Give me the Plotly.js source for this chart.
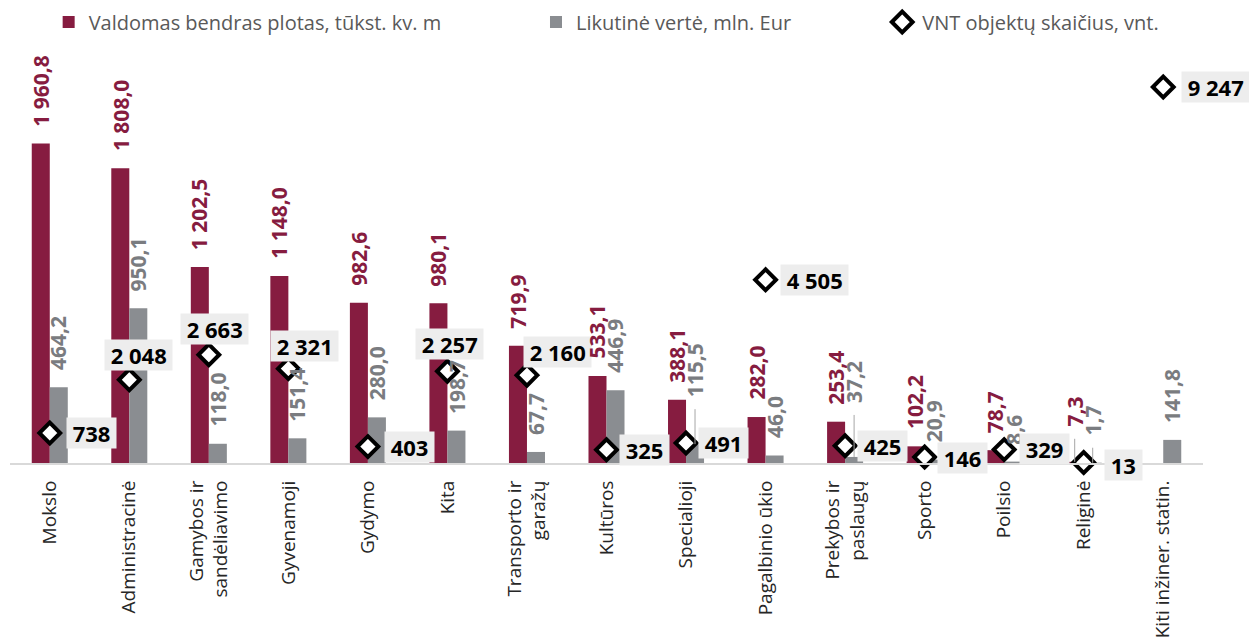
<!DOCTYPE html>
<html>
<head>
<meta charset="utf-8">
<script src="https://cdn.plot.ly/plotly-3.0.1.min.js"></script>
<style>html,body{margin:0;padding:0;background:#fff;}#chart{width:1249px;height:644px;}</style>
</head>
<body>
<div id="chart"></div>
<script>
// ---- data ----
const categories = [
  "Mokslo", "Administracinė", "Gamybos ir<br>sandėliavimo", "Gyvenamoji", "Gydymo", "Kita",
  "Transporto ir<br>garažų", "Kultūros", "Specialioji", "Pagalbinio ūkio", "Prekybos ir<br>paslaugų",
  "Sporto", "Poilsio", "Religinė", "Kiti inžiner. statin."
];
const plotas = [1960.8, 1808.0, 1202.5, 1148.0, 982.6, 980.1, 719.9, 533.1, 388.1, 282.0, 253.4, 102.2, 78.7, 7.3, null];
const vertė = [464.2, 950.1, 118.0, 151.4, 280.0, 198.7, 67.7, 446.9, 115.5, 46.0, 37.2, 20.9, 8.6, 1.7, 141.8];
const vnt = [738, 2048, 2663, 2321, 403, 2257, 2160, 325, 491, 4505, 425, 146, 329, 13, 9247];

const seriesNames = ["Valdomas bendras plotas, tūkst. kv. m", "Likutinė vertė, mln. Eur", "VNT objektų skaičius, vnt."];

// ---- style ----
const MAROON = "#861C40";
const GRAY = "#8A8D91";
const GRAYTXT = "#7A7C80";
const FONT = "Open Sans, Noto Sans, sans-serif";
// label placement for VNT labels: [xshift, yshift, anchor]
const vntLabelStyle = [
  [16,0,'left'], [9,25,'center'], [6,26,'center'], [16,23,'center'], [16,0,'left'], [2,27,'center'],
  [31,23,'center'], [12,0,'left'], [12,0,'left'], [14,0,'left'], [12,0,'left'],
  [12,-1,'left'], [15,1,'left'], [20,-3,'left'], [18,0,'left']
];
// extra lift of some value labels (moved labels in the original), with leader lines
const plotasLift = {13: 18};
const verteLift = {8: 30, 10: 37, 13: 10};

function fmt(v, dec) {
  let s = v.toFixed(dec);
  let parts = s.split('.');
  parts[0] = parts[0].replace(/\B(?=(\d{3})+(?!\d))/g, ' ');
  return parts.join(',');
}

const traces = [
  {type:'bar', name: seriesNames[0], x: categories, y: plotas, marker:{color: MAROON},
   legend:'legend', hoverinfo:'skip'},
  {type:'bar', name: seriesNames[1], x: categories, y: vertė, marker:{color: GRAY},
   legend:'legend2', hoverinfo:'skip'},
  {type:'scatter', mode:'markers', name: seriesNames[2], x: categories, y: vnt, yaxis:'y2',
   marker:{symbol:'diamond', size:16, color:'#ffffff', line:{color:'#000000', width:4}},
   cliponaxis:false, legend:'legend3', hoverinfo:'skip'}
];

const annotations = [];
const shapes = [];
categories.forEach((c, i) => {
  if (plotas[i] != null) {
    annotations.push({x:c, y:plotas[i], xref:'x', yref:'y', text: fmt(plotas[i],1), showarrow:false,
      textangle:-90, xanchor:'center', yanchor:'bottom', xshift:-9, yshift:15 + (plotasLift[i]||0),
      font:{family:FONT, size:21, color:MAROON, weight:700}});
    if (plotasLift[i]) {
      shapes.push({type:'line', xref:'x', yref:'y', xsizemode:'pixel', xanchor:i, x0:-9, x1:-9,
        ysizemode:'pixel', yanchor:plotas[i], y0:0, y1:plotasLift[i] + 5,
        line:{color:'#A6A6A6', width:1}, layer:'above'});
    }
  }
  if (vertė[i] != null) {
    annotations.push({x:c, y:vertė[i], xref:'x', yref:'y', text: fmt(vertė[i],1), showarrow:false,
      textangle:-90, xanchor:'center', yanchor:'bottom', xshift:9, yshift:15 + (verteLift[i]||0),
      font:{family:FONT, size:21, color:GRAYTXT, weight:700}});
    if (verteLift[i]) {
      shapes.push({type:'line', xref:'x', yref:'y', xsizemode:'pixel', xanchor:i, x0:9, x1:9,
        ysizemode:'pixel', yanchor:vertė[i], y0:0, y1:verteLift[i] + 5,
        line:{color:'#A6A6A6', width:1}, layer:'above'});
    }
  }
  const st = vntLabelStyle[i];
  annotations.push({x:c, y:vnt[i], xref:'x', yref:'y2', text: '&nbsp;' + fmt(vnt[i],0) + '&nbsp;', showarrow:false,
    xanchor: st[2], yanchor:'middle', xshift: st[0], yshift: st[1],
    bgcolor:'#EDEDED', borderpad:0,
    font:{family:FONT, size:22, color:'#000000', weight:700}});
});

const legendBase = {orientation:'h', yanchor:'middle', y:1.1025, xanchor:'left',
  font:{family:FONT, size:20, color:'#595959'}, bgcolor:'rgba(0,0,0,0)'};

const layout = {
  width:1249, height:644,
  margin:{l:10, r:46, t:63, b:181, autoexpand:false},
  paper_bgcolor:'#ffffff', plot_bgcolor:'#ffffff',
  barmode:'group', bargap:0.547, bargroupgap:0,
  font:{family:FONT},
  showlegend:true,
  legend: Object.assign({}, legendBase, {x:0.0324}),
  legend2: Object.assign({}, legendBase, {x:0.4409}),
  legend3: Object.assign({}, legendBase, {x:0.7311}),
  xaxis:{type:'category', range:[-0.5, categories.length - 0.5], showline:true, linecolor:'#D9D9D9', linewidth:2,
    ticks:'', showgrid:false, tickangle:-90, tickfont:{family:FONT, size:19, color:'#262626'},
    automargin:false, ticklabelstandoff:8},
  yaxis:{range:[0, 2454], visible:false, showgrid:false, zeroline:false, fixedrange:true},
  yaxis2:{range:[0, 9838], overlaying:'y', visible:false, showgrid:false, zeroline:false},
  annotations: annotations,
  shapes: shapes
};

Plotly.newPlot('chart', traces, layout, {displayModeBar:false, staticPlot:true});
</script>
</body>
</html>
